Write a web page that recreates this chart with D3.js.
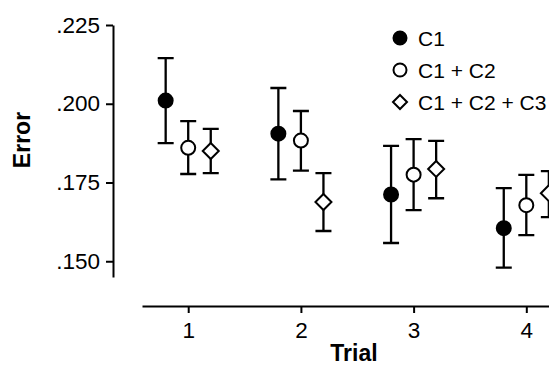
<!DOCTYPE html>
<html>
<head>
<meta charset="utf-8">
<script src="https://cdn.jsdelivr.net/npm/d3@7"></script>
<style>
  body { margin: 0; background: #fff; }
  svg text { font-family: "Liberation Sans", Arial, Helvetica, sans-serif; fill: #000; }
  .axis path, .axis line { stroke: #000; stroke-width: 2; }
  .axis text { font-size: 22.5px; }
  .axis-label { font-size: 23px; font-weight: bold; }
  .legend text { font-size: 21px; }
</style>
</head>
<body>
<div id="chart"></div>
<script>
// data
const trials = [1, 2, 3, 4];
const seriesNames = ['C1', 'C1 + C2', 'C1 + C2 + C3'];
const c1Mean  = [0.2010, 0.1905, 0.1712, 0.1605];
const c1Lo    = [0.1875, 0.1760, 0.1558, 0.1480];
const c1Hi    = [0.2145, 0.2050, 0.1866, 0.1732];
const c12Mean = [0.1860, 0.1883, 0.1775, 0.1678];
const c12Lo   = [0.1777, 0.1788, 0.1662, 0.1583];
const c12Hi   = [0.1945, 0.1977, 0.1888, 0.1774];
const c123Mean = [0.1850, 0.1688, 0.1793, 0.1716];
const c123Lo   = [0.1780, 0.1596, 0.1700, 0.1640];
const c123Hi   = [0.1920, 0.1780, 0.1882, 0.1786];
const yTicks = [0.150, 0.175, 0.200, 0.225];
const xLabel = 'Trial';
const yLabel = 'Error';

const config = {
  width: 549, height: 366,
  offset: 0.2,        // horizontal shift of each series, in trial units
  capHalf: 8,         // px
  radius: 7,
  diamond: 8,
  stroke: 2
};

const series = [
  {name: seriesNames[0], mean: c1Mean, lo: c1Lo, hi: c1Hi, shape: 'dot', shift: -config.offset},
  {name: seriesNames[1], mean: c12Mean, lo: c12Lo, hi: c12Hi, shape: 'circle', shift: 0},
  {name: seriesNames[2], mean: c123Mean, lo: c123Lo, hi: c123Hi, shape: 'diamond', shift: config.offset}
];

const svg = d3.select('#chart').append('svg')
  .attr('width', config.width)
  .attr('height', config.height);

const xScale = d3.scaleLinear().domain([0.59, 4.5]).range([142, 142 + 3.91 * 112.7]);
const yScale = d3.scaleLinear().domain([0.145, 0.225]).range([277, 25]);

// axes
svg.append('g')
  .attr('class', 'axis axis-x')
  .attr('transform', 'translate(0,306)')
  .call(d3.axisBottom(xScale).tickValues(trials).tickFormat(d3.format('d'))
    .tickSize(7).tickSizeOuter(0).tickPadding(9));

svg.append('g')
  .attr('class', 'axis axis-y')
  .attr('transform', 'translate(113,0)')
  .call(d3.axisLeft(yScale).tickValues(yTicks)
    .tickFormat(d => d3.format('.3f')(d).replace(/^0/, ''))
    .tickSize(7).tickSizeOuter(0).tickPadding(6));

svg.append('text')
  .attr('class', 'axis-label')
  .attr('x', 354)
  .attr('y', 361)
  .attr('text-anchor', 'middle')
  .text(xLabel);

svg.append('text')
  .attr('class', 'axis-label')
  .attr('transform', 'translate(30,140) rotate(-90)')
  .attr('text-anchor', 'middle')
  .text(yLabel);

function drawMarker(g, shape, size) {
  if (shape === 'diamond') {
    const s = size;
    g.append('path')
      .attr('d', `M0,${-s}L${s},0L0,${s}L${-s},0Z`)
      .attr('fill', '#fff')
      .attr('stroke', '#000')
      .attr('stroke-width', config.stroke);
  } else {
    g.append('circle')
      .attr('r', size)
      .attr('fill', shape === 'dot' ? '#000' : '#fff')
      .attr('stroke', '#000')
      .attr('stroke-width', config.stroke);
  }
}

// error bars + markers
const plot = svg.append('g').attr('class', 'plotArea');
series.forEach(s => {
  trials.forEach((t, i) => {
    const cx = xScale(t + s.shift);
    const g = plot.append('g');
    g.append('path')
      .attr('d', `M${cx},${yScale(s.lo[i])}V${yScale(s.hi[i])}` +
        `M${cx - config.capHalf},${yScale(s.hi[i])}H${cx + config.capHalf}` +
        `M${cx - config.capHalf},${yScale(s.lo[i])}H${cx + config.capHalf}`)
      .attr('stroke', '#000')
      .attr('stroke-width', config.stroke + 0.3)
      .attr('fill', 'none');
    const m = g.append('g').attr('transform', `translate(${cx},${yScale(s.mean[i])})`);
    drawMarker(m, s.shape, s.shape === 'diamond' ? config.diamond : config.radius);
  });
});

// legend
const legend = svg.append('g').attr('class', 'legend').attr('transform', 'translate(400,38)');
series.forEach((s, i) => {
  const row = legend.append('g').attr('transform', `translate(0,${i * 32})`);
  drawMarker(row, s.shape, s.shape === 'diamond' ? 7 : 6.5);
  row.append('text')
    .attr('x', 18)
    .attr('dy', '0.36em')
    .text(s.name);
});
</script>
</body>
</html>
